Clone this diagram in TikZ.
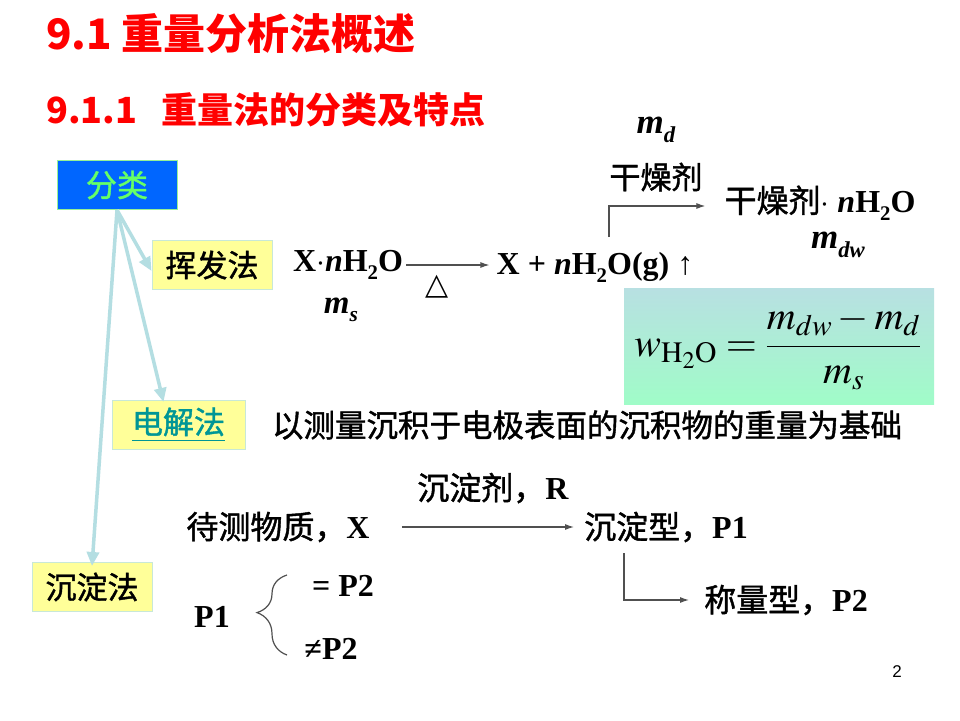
\documentclass[tikz,border=0pt]{standalone}
\usepackage{mathptmx}
\usepackage{fontspec}
\setmainfont{Liberation Serif}
\newfontfamily\cjk{Noto Sans CJK SC}[FakeBold=1.3]
\newfontfamily\cjkt{Noto Sans CJK SC}
\newfontfamily\sym{DejaVu Sans}
\newfontfamily\arial{Liberation Sans}
\usetikzlibrary{arrows.meta,decorations.pathreplacing}
\newcommand\fs[1]{\fontsize{#1}{#1}\selectfont}
\newcommand\sbs[1]{\raisebox{-0.25em}{\scalebox{0.65}{#1}}}
\definecolor{boxblue}{RGB}{0,102,255}
\definecolor{bgreen}{RGB}{150,240,150}
\definecolor{txtgreen}{RGB}{102,255,102}
\definecolor{yell}{RGB}{255,255,153}
\definecolor{ybord}{RGB}{200,232,215}
\definecolor{arrblue}{RGB}{180,222,226}
\definecolor{dteal}{RGB}{0,150,150}
\definecolor{ftop}{RGB}{184,224,226}
\definecolor{fbot}{RGB}{160,252,200}
\definecolor{titred}{RGB}{255,0,0}
\definecolor{lgray}{RGB}{80,80,80}
\tikzset{
  x=1pt,y=-1pt,
  box/.style={draw=ybord,fill=yell,line width=1pt,minimum width=120,minimum height=49,inner sep=0pt,font=\cjk\fs{31}},
  txt/.style={inner sep=0pt},
  barr/.style={draw=arrblue,line width=3.5pt,-{Triangle[length=14pt,width=12pt]}},
  garr/.style={draw=lgray,line width=1.2pt,-{Latex[length=9pt,width=6pt]}},
  gline/.style={draw=lgray,line width=1.2pt}
}
\begin{document}
\begin{tikzpicture}
\path[use as bounding box,fill=white] (0,0) rectangle (960,720);
% titles
\node[txt,anchor=west,text=titred,font=\cjkt\bfseries\fs{42}] (title) at (46,34) {9.1 重量分析法概述};
\node[txt,anchor=west,text=titred,font=\cjkt\bfseries\fs{36}] (sub) at (46,110) {9.1.1\ \ \ 重量法的分类及特点};
% boxes
\node[box,fill=boxblue,draw=bgreen,text=txtgreen] (fenlei) at (117,185) {分类};
\node[box] (huifa) at (212,265) {挥发法};
\node[box,minimum width=133,text=dteal] (dianjie) at (178.5,425) {\underline{电解法}};
\node[box] (chendian) at (92,587) {沉淀法};
\draw[barr] (fenlei.south) -- ([yshift=-6]huifa.west);
\draw[barr] (fenlei.south) -- ([xshift=-15,yshift=-2]dianjie.north);
\draw[barr] (fenlei.south) -- ([yshift=-4]chendian.north);
% volatilization
\node[txt,font=\bfseries\fs{32}] (xh2o) at (348,265) {X$\cdot$\textit{n}H\sbs{2}O};
\node[txt,font=\bfseries\fs{32}] (prod) at (595,267) {X + \textit{n}H\sbs{2}O(g) ↑};
\draw[garr] ([xshift=3]xh2o.east |- 0,265) -- ([xshift=-7]prod.west |- 0,265);
\node[txt,font=\sym\fs{30}] (delta) at (437,287) {△};
\node[txt,font=\bfseries\itshape\fs{33}] (ms) at (341,310) {m\sbs{s}};
\node[txt,font=\bfseries\itshape\fs{35}] (md) at (656,130) {m\sbs{d}};
\node[txt,font=\cjk\fs{31}] (dry) at (656,177) {干燥剂};
\node[txt,font=\fs{32}] (dry2) at (820,203) {{\cjk 干燥剂}\textbf{$\cdot$ \textit{n}H\sbs{2}O}};
\node[txt,font=\bfseries\itshape\fs{35}] (mdw) at (838,245) {m\sbs{dw}};
\coordinate (c1) at (609,237);
\draw[garr] (c1) |- ([xshift=-19,yshift=-3]dry2.west);
% formula
\fill[top color=ftop,bottom color=fbot] (624,288) rectangle (934,404);
\node[txt,font=\fs{40}] (wf) at (778,348) {$w_{\mathrm{H_2O}}=\displaystyle\frac{m_{dw}-m_d}{m_s}$};
% electrolysis
\node[txt,font=\cjk\fs{31.5}] (elec) at (587,425) {以测量沉积于电极表面的沉积物的重量为基础};
% precipitation
\node[txt,font=\fs{32}] (reag) at (493,488) {{\cjk 沉淀剂，}\textbf{R}};
\node[txt,font=\fs{32}] (anal) at (278,527) {{\cjk 待测物质，}\textbf{X}};
\node[txt,font=\fs{32}] (pform) at (666,527) {{\cjk 沉淀型，}\textbf{P1}};
\node[txt,font=\fs{32}] (wform) at (786,600) {{\cjk 称量型，}\textbf{P2}};
\draw[garr] ([xshift=32]anal.east) -- ([xshift=-10]pform.west);
\coordinate (c2) at (624,553);
\draw[garr] (c2) |- ([xshift=-15]wform.west);
\node[txt,font=\bfseries\fs{32}] (p1) at (212,617) {P1};
\node[txt,font=\bfseries\fs{32}] (eq) at (343,586) {= P2};
\node[txt,font=\bfseries\fs{32}] (ne) at (331,649) {≠P2};
\coordinate (b1) at (287,655);
\coordinate (b2) at (287,575);
\draw[gline,decorate,decoration={brace,amplitude=30pt,aspect=0.53}] (b1) -- (b2);
\node[txt,font=\arial\fs{17}] (pg) at (897,672) {2};
\end{tikzpicture}
\end{document}
